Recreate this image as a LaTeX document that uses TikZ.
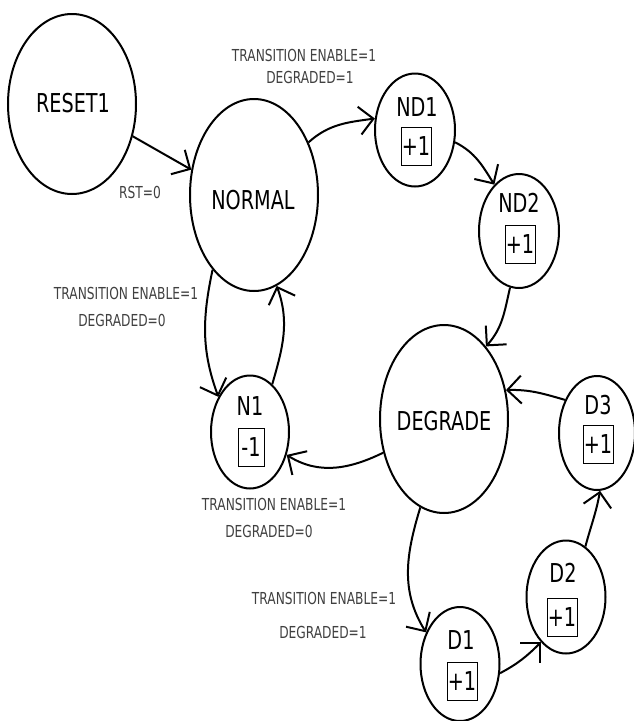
\documentclass[tikz,border=0pt]{standalone}
\usepackage{fontspec}
\setmainfont{DejaVu Sans}[FakeStretch=0.74]
\usetikzlibrary{shapes.geometric,arrows.meta}
\begin{document}
\begin{tikzpicture}[x=1pt,y=1pt,
  state/.style={ellipse,draw,line width=2pt,inner sep=0pt},
  big/.style={font=\fontsize{26}{28}\selectfont,inner sep=0pt},
  small/.style={font=\fontsize{16.5}{18}\selectfont,text=black!75,inner sep=0pt},
  cnt/.style={draw,line width=0.8pt,minimum width=30pt,minimum height=38pt,inner sep=0pt,font=\fontsize{26}{28}\selectfont},
  arr/.style={line width=2pt,-{Straight Barb[length=14pt,width=28pt]}}]
\useasboundingbox (0,0) rectangle (634,-721);

% states
\node[state,minimum width=128pt,minimum height=180pt] (RESET1) at (72,-104) {};
\node[state,minimum width=128pt,minimum height=192pt] (NORMAL) at (254,-195) {};
\node[state,minimum width=80pt,minimum height=113pt] (ND1) at (415,-130) {};
\node[state,minimum width=80pt,minimum height=114pt] (ND2) at (519,-231) {};
\node[state,minimum width=78pt,minimum height=113pt] (N1) at (250,-432) {};
\node[state,minimum width=128pt,minimum height=188pt] (DEGRADE) at (444,-419) {};
\node[state,minimum width=76pt,minimum height=114pt] (D3) at (597,-433) {};
\node[state,minimum width=79pt,minimum height=113pt] (D2) at (566,-597) {};
\node[state,minimum width=79pt,minimum height=114pt] (D1) at (460,-664) {};

% state texts
\node[big] (tRESET1) at (73,-103) {RESET1};
\node[big] (tNORMAL) at (253,-200) {NORMAL};
\node[big] (tDEGRADE) at (444,-421) {DEGRADE};
\node[big] (tND1) at (417,-107) {ND1};
\node[cnt] (bND1) at (416,-146) {+1};
\node[big] (tND2) at (519,-203) {ND2};
\node[cnt] (bND2) at (520,-244) {+1};
\node[big] (tN1) at (250,-406) {N1};
\node[cnt,minimum width=26pt] (bN1) at (251,-447) {-1};
\node[big] (tD3) at (598,-405) {D3};
\node[cnt] (bD3) at (598,-444) {+1};
\node[big] (tD2) at (563,-573) {D2};
\node[cnt] (bD2) at (562,-617) {+1};
\node[big] (tD1) at (461,-640) {D1};
\node[cnt] (bD1) at (462,-681) {+1};

% edge labels
\node[small] (rst) at (140,-192) {RST=0};
\node[small] (l1a) at (304,-55) {TRANSITION ENABLE=1};
\node[small] (l1b) at (310,-77) {DEGRADED=1};
\node[small] (l2a) at (126,-293) {TRANSITION ENABLE=1};
\node[small] (l2b) at (122,-320) {DEGRADED=0};
\node[small] (l3a) at (274,-504) {TRANSITION ENABLE=1};
\node[small] (l3b) at (269,-531) {DEGRADED=0};
\node[small] (l4a) at (324,-598) {TRANSITION ENABLE=1};
\node[small] (l4b) at (323,-632) {DEGRADED=1};

% connectors
\draw[arr] (RESET1.-28) -- (NORMAL.158);
\draw[arr] (NORMAL.44) to[out=42,in=188] (ND1.164);
\draw[arr] (ND1.-17) to[out=-27,in=122] (ND2.118);
\draw[arr] (ND2.-99) to[out=-103,in=48] (DEGRADE.60);
\draw[arr] (D3.134) to[out=164,in=2] (DEGRADE.25);
\draw[arr] (DEGRADE.209) to[out=206,in=-32] (N1.-32);
\draw[arr] (NORMAL.241) to[out=258,in=110] (N1.132);
\draw[arr] (N1.65) to[out=74,in=-70] (NORMAL.-76);
\draw[arr] (DEGRADE.255) to[out=253,in=122] (D1.137);
\draw[arr] (D1.-13) to[out=28,in=225] (D2.241);
\draw[arr] (D2.69) to[out=75,in=-100] (D3.-87);
\end{tikzpicture}
\end{document}
